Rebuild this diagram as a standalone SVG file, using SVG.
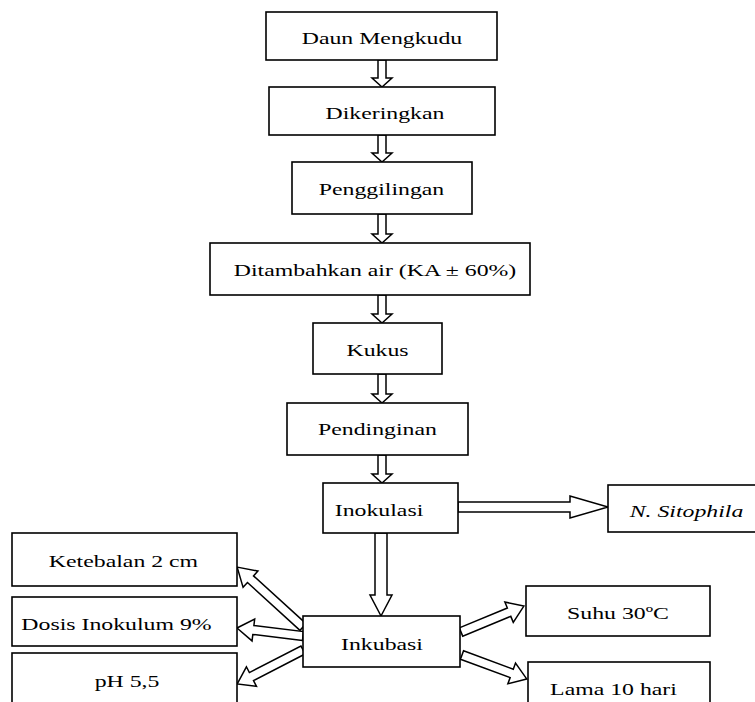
<svg xmlns="http://www.w3.org/2000/svg" width="755" height="702" viewBox="0 0 755 702">
<style>
  .box{fill:#fff;stroke:#000;stroke-width:1.6}
  .arr{fill:#fff;stroke:#000;stroke-width:1.5;stroke-linejoin:miter}
  text{font-family:"Liberation Serif","Times New Roman",serif;font-size:17.5px;fill:#000;text-anchor:middle}
  .it{font-style:italic}
</style>
<rect width="755" height="702" fill="#fff"/>
<g id="connectors">
  <path class="arr" d="M378,60 V78 H372 L382,87 L392,78 H386 V60 Z"/>
  <path class="arr" d="M378,135 V153 H372 L382,162 L392,153 H386 V135 Z"/>
  <path class="arr" d="M378,214 V234 H372 L382,243 L392,234 H386 V214 Z"/>
  <path class="arr" d="M378,295 V314 H372 L382,323 L392,314 H386 V295 Z"/>
  <path class="arr" d="M378,374 V394 H372 L382,403 L392,394 H386 V374 Z"/>
  <path class="arr" d="M378,455 V474 H372 L382,483 L392,474 H386 V455 Z"/>
  <path class="arr" d="M375,533 V595 H370 L381,616 L392,595 H387 V533 Z"/>
  <path class="arr" d="M458,502 H570 V496 L608,507 L570,518 V512 H458 Z"/>
  <path class="arr" transform="translate(303,627) rotate(-137.7)" d="M0,-4.5 H71 V-11 L89,0 L71,11 V4.5 H0 Z"/>
  <path class="arr" transform="translate(303,636) rotate(-173.1)" d="M0,-4.5 H50 V-11 L66.5,0 L50,11 V4.5 H0 Z"/>
  <path class="arr" transform="translate(303,650) rotate(152.75)" d="M0,-4.5 H58 V-11 L74,0 L58,11 V4.5 H0 Z"/>
  <path class="arr" transform="translate(461,632) rotate(-22.4)" d="M0,-4.5 H52 V-11 L68,0 L52,11 V4.5 H0 Z"/>
  <path class="arr" transform="translate(462,655) rotate(20.3)" d="M0,-4.5 H53 V-11 L69,0 L53,11 V4.5 H0 Z"/>
</g>
<g id="n1"><rect class="box" x="266" y="12" width="231" height="48"/><text transform="translate(382,44) scale(1.36,1)">Daun Mengkudu</text></g>
<g id="n2"><rect class="box" x="269" y="87" width="226" height="48"/><text transform="translate(385,119) scale(1.36,1)">Dikeringkan</text></g>
<g id="n3"><rect class="box" x="292" y="162" width="180" height="52"/><text transform="translate(381.5,195) scale(1.36,1)">Penggilingan</text></g>
<g id="n4"><rect class="box" x="210" y="243" width="320" height="52"/><text transform="translate(375,276) scale(1.36,1)">Ditambahkan air (KA ± 60%)</text></g>
<g id="n5"><rect class="box" x="313" y="323" width="129" height="51"/><text transform="translate(377.5,356) scale(1.36,1)">Kukus</text></g>
<g id="n6"><rect class="box" x="287" y="403" width="181" height="52"/><text transform="translate(377.5,435) scale(1.36,1)">Pendinginan</text></g>
<g id="n7"><rect class="box" x="323" y="483" width="135" height="50"/><text transform="translate(379,516) scale(1.36,1)">Inokulasi</text></g>
<g id="n8"><rect class="box" x="608" y="485" width="150" height="47"/><text class="it" transform="translate(686.5,517) scale(1.36,1)">N. Sitophila</text></g>
<g id="n9"><rect class="box" x="303" y="616" width="157" height="51"/><text transform="translate(382,650) scale(1.36,1)">Inkubasi</text></g>
<g id="n10"><rect class="box" x="12" y="533" width="225" height="53"/><text transform="translate(123.5,567) scale(1.36,1)">Ketebalan 2 cm</text></g>
<g id="n11"><rect class="box" x="12" y="597" width="225" height="49"/><text transform="translate(116.5,630) scale(1.36,1)">Dosis Inokulum 9%</text></g>
<g id="n12"><rect class="box" x="12" y="653" width="225" height="55"/><text transform="translate(127,687) scale(1.36,1)">pH 5,5</text></g>
<g id="n13"><rect class="box" x="526" y="586" width="184" height="50"/><text transform="translate(618,619) scale(1.36,1)">Suhu 30ºC</text></g>
<g id="n14"><rect class="box" x="528" y="662" width="182" height="46"/><text transform="translate(613.5,695) scale(1.36,1)">Lama 10 hari</text></g>
</svg>
